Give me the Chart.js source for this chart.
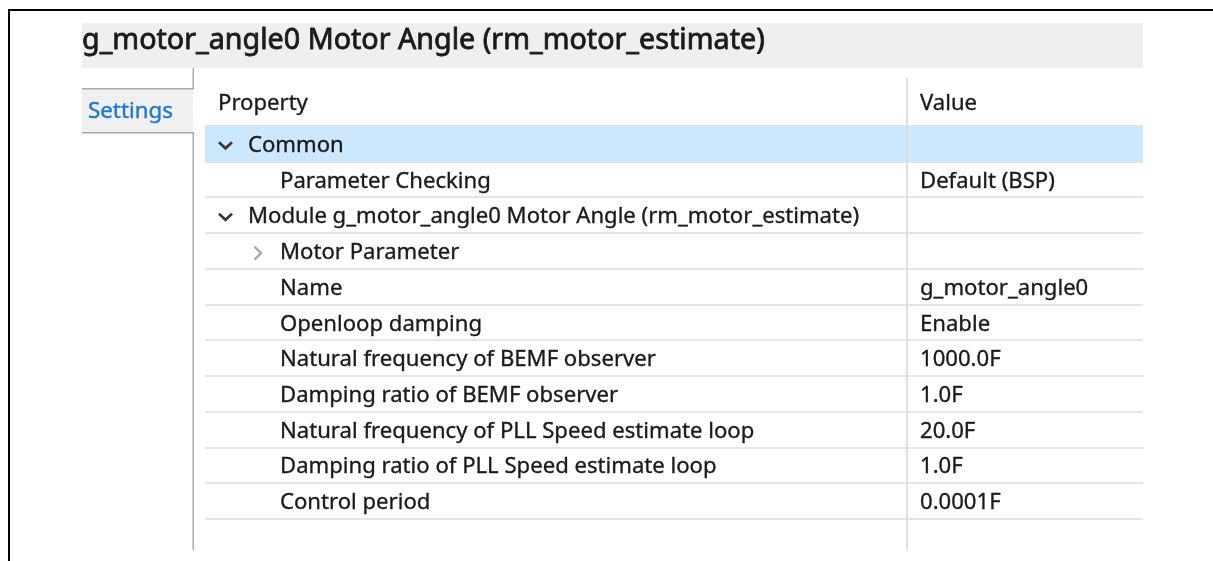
<!DOCTYPE html>
<html>
<head>
<meta charset="utf-8">
<script src="https://cdn.jsdelivr.net/npm/chart.js@4/dist/chart.umd.min.js"></script>
<style>
  html, body { margin: 0; padding: 0; background: #fff; }
  #wrap { position: relative; width: 1213px; height: 561px; }
  canvas { display: block; }
</style>
</head>
<body>
<div id="wrap"><canvas id="c" width="1213" height="561"></canvas></div>
<script>
// ---- data ----
const titleText = 'g_motor_angle0 Motor Angle (rm_motor_estimate)';
const tabs = ['Settings'];
const columnHeaders = ['Property', 'Value'];
const properties = [
  'Common',
  'Parameter Checking',
  'Module g_motor_angle0 Motor Angle (rm_motor_estimate)',
  'Motor Parameter',
  'Name',
  'Openloop damping',
  'Natural frequency of BEMF observer',
  'Damping ratio of BEMF observer',
  'Natural frequency of PLL Speed estimate loop',
  'Damping ratio of PLL Speed estimate loop',
  'Control period'
];
const values = ['', 'Default (BSP)', '', '', 'g_motor_angle0', 'Enable', '1000.0F', '1.0F', '20.0F', '1.0F', '0.0001F'];
const levels = [0, 1, 0, 1, 1, 1, 1, 1, 1, 1, 1];
const expanders = ['open', '', 'open', 'closed', '', '', '', '', '', '', ''];
const selectedRow = 0;

// ---- styling ----
const FAMILY = '"Noto Sans", "Open Sans", sans-serif';
const TEXT = '#1b1b1b';
const selection = properties.map((_, i) => i === selectedRow ? 1 : null);

function fitSize(ctx, text, target, weight) {
  ctx.font = `${weight || 'normal'} 100px ${FAMILY}`;
  return 100 * target / ctx.measureText(text).width;
}
function heavyText(ctx, text, x, y, color, sw) {
  ctx.fillStyle = color;
  ctx.strokeStyle = color;
  ctx.lineWidth = sw;
  ctx.lineJoin = 'round';
  ctx.fillText(text, x, y);
  if (sw > 0) ctx.strokeText(text, x, y);
}

const framePlugin = {
  id: 'frame',
  beforeDraw(chart) {
    const ctx = chart.ctx;
    const ca = chart.chartArea;
    ctx.save();
    ctx.fillStyle = '#fff';
    ctx.fillRect(0, 0, chart.width, chart.height);
    // outer black frame (top and left)
    ctx.fillStyle = '#000';
    ctx.fillRect(8, 9, chart.width - 8, 2);
    ctx.fillRect(8, 9, 2, chart.height - 9);
    // title bar
    ctx.fillStyle = '#efefef';
    ctx.fillRect(82, 23, ca.right - 82, 45);
    const ts = fitSize(ctx, titleText, 683);
    ctx.font = `${ts}px ${FAMILY}`;
    ctx.textBaseline = 'alphabetic';
    ctx.textAlign = 'left';
    heavyText(ctx, titleText, 82, 49, TEXT, 0.8);
    // tab
    ctx.fillStyle = '#f0f0f0';
    ctx.fillRect(82, 89, 111, 44);
    ctx.fillStyle = '#a9a9a9';
    ctx.fillRect(82, 88, 112, 1.5);
    ctx.fillRect(82, 132, 112, 1.5);
    ctx.fillRect(192.5, 68, 1.5, 21);
    ctx.fillRect(192.5, 132, 1.5, 418);
    const ss = fitSize(ctx, tabs[0], 85);
    ctx.font = `${ss}px ${FAMILY}`;
    heavyText(ctx, tabs[0], 88, 118, '#1f78d1', 0.4);
    ctx.restore();
  },
  afterDatasetsDraw(chart) {
    const ctx = chart.ctx;
    const ca = chart.chartArea;
    const y = chart.scales.y;
    const sepX = 907;
    ctx.save();
    // column separator
    ctx.fillStyle = 'rgba(220,220,220,0.85)';
    ctx.fillRect(sepX - 1, 78, 2, 472);
    const fs = fitSize(ctx, 'Natural frequency of BEMF observer', 376);
    ctx.font = `${fs}px ${FAMILY}`;
    ctx.textBaseline = 'alphabetic';
    ctx.textAlign = 'left';
    // headers
    heavyText(ctx, columnHeaders[0], ca.left + 13, 110, TEXT, 0.35);
    heavyText(ctx, columnHeaders[1], sepX + 13, 110, TEXT, 0.35);
    properties.forEach((p, i) => {
      const cy = y.getPixelForValue(i);
      const tx = ca.left + (levels[i] === 0 ? 43 : 75);
      heavyText(ctx, p, tx, cy + 8, TEXT, 0.35);
      if (values[i]) heavyText(ctx, values[i], sepX + 13, cy + 8, TEXT, 0.35);
      if (expanders[i] === 'open') {
        const cx = tx - 22.5;
        ctx.strokeStyle = '#3a3a3a';
        ctx.lineWidth = 2.7;
        ctx.lineCap = 'butt';
        ctx.lineJoin = 'miter';
        ctx.beginPath();
        ctx.moveTo(cx - 6.5, cy - 1.5);
        ctx.lineTo(cx, cy + 4.5);
        ctx.lineTo(cx + 6.5, cy - 1.5);
        ctx.stroke();
      } else if (expanders[i] === 'closed') {
        const cx = tx - 22;
        ctx.strokeStyle = '#a8a8a8';
        ctx.lineWidth = 2.4;
        ctx.lineJoin = 'miter';
        ctx.beginPath();
        ctx.moveTo(cx - 3.5, cy - 4.5);
        ctx.lineTo(cx + 3, cy + 2);
        ctx.lineTo(cx - 3.5, cy + 8.5);
        ctx.stroke();
      }
    });
    ctx.restore();
  }
};

new Chart(document.getElementById('c'), {
  type: 'bar',
  data: {
    labels: properties,
    datasets: [{
      label: 'selection',
      data: selection,
      backgroundColor: '#cce8ff',
      borderWidth: 0,
      barPercentage: 1,
      categoryPercentage: 1
    }]
  },
  options: {
    indexAxis: 'y',
    responsive: false,
    animation: false,
    events: [],
    layout: { padding: { left: 205, top: 126, right: 70, bottom: 42 } },
    plugins: { legend: { display: false }, tooltip: { enabled: false } },
    scales: {
      x: { display: false, min: 0, max: 1 },
      y: {
        display: true,
        offset: true,
        ticks: { display: false },
        border: { display: false },
        grid: { offset: true, drawTicks: false, color: '#e6e6e6', lineWidth: 2 },
        afterFit(scale) { scale.width = 0; }
      }
    }
  },
  plugins: [framePlugin]
});
</script>
</body>
</html>
